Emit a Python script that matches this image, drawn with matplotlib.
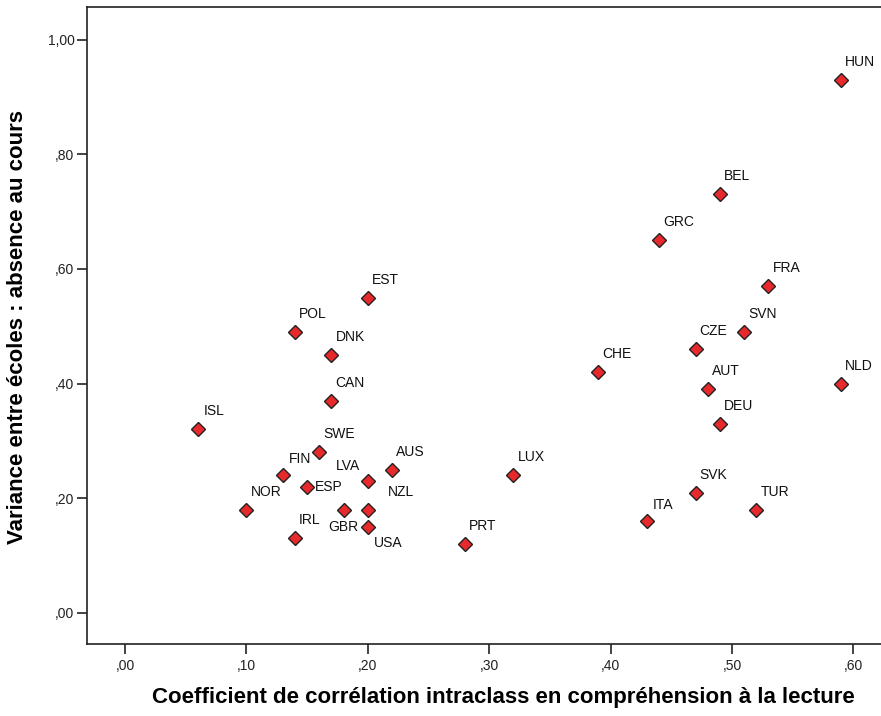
import matplotlib.pyplot as plt
from matplotlib.ticker import FixedLocator

# DATA
COUNTRIES = ["HUN", "BEL", "GRC", "FRA", "SVN", "CZE", "CHE", "AUT", "NLD", "DEU",
             "SVK", "TUR", "ITA", "LUX", "PRT", "EST", "POL", "DNK", "CAN", "ISL",
             "SWE", "FIN", "LVA", "AUS", "ESP", "NOR", "GBR", "NZL", "USA", "IRL"]
ICC_READING = [0.59, 0.49, 0.44, 0.53, 0.51, 0.47, 0.39, 0.48, 0.59, 0.49,
               0.47, 0.52, 0.43, 0.32, 0.28, 0.20, 0.14, 0.17, 0.17, 0.06,
               0.16, 0.13, 0.20, 0.22, 0.15, 0.10, 0.18, 0.20, 0.20, 0.14]
VAR_ABSENCE = [0.93, 0.73, 0.65, 0.57, 0.49, 0.46, 0.42, 0.39, 0.40, 0.33,
               0.21, 0.18, 0.16, 0.24, 0.12, 0.55, 0.49, 0.45, 0.37, 0.32,
               0.28, 0.24, 0.23, 0.25, 0.22, 0.18, 0.18, 0.18, 0.15, 0.13]
X_TICKS = [0.0, 0.1, 0.2, 0.3, 0.4, 0.5, 0.6]
X_TICK_LABELS = [",00", ",10", ",20", ",30", ",40", ",50", ",60"]
Y_TICKS = [0.0, 0.2, 0.4, 0.6, 0.8, 1.0]
Y_TICK_LABELS = [",00", ",20", ",40", ",60", ",80", "1,00"]

# label placement (pixel offsets from the marker, halign)
DEFAULT_OFFSET = (4, -18, "left")
LABEL_OFFSETS = {
    "ITA": (6, -16, "left"),
    "ISL": (6, -18, "left"),
    "FIN": (6, -16, "left"),
    "LVA": (-8, -15, "right"),
    "ESP": (8, 0, "left"),
    "GBR": (0, 17, "center"),
    "NZL": (20, -18, "left"),
    "USA": (6, 16, "left"),
}

MARKER_COLOUR = "#E8292C"
FONT = "Liberation Sans"

fig = plt.figure(figsize=(8.81, 7.16), dpi=100)
ax = fig.add_axes([87 / 881, 1 - 644 / 716, 1 - 87 / 881 + 0.01, (644 - 7) / 716])

ax.plot(ICC_READING, VAR_ABSENCE, linestyle="none", marker="D", markersize=7.2,
        markerfacecolor=MARKER_COLOUR, markeredgecolor="#222222", markeredgewidth=1.0,
        zorder=3)

for name, x, y in zip(COUNTRIES, ICC_READING, VAR_ABSENCE):
    dx, dy, ha = LABEL_OFFSETS.get(name, DEFAULT_OFFSET)
    ax.annotate(name, (x, y), xytext=(dx, -dy), textcoords="offset pixels",
                ha=ha, va="center", fontsize=10, family=FONT, color="#111111")

# axes range
x_per_px = 0.1 / 121.4
y_per_px = 0.2 / 114.7
ax.set_xlim(-38 * x_per_px, -38 * x_per_px + (881 * ax.get_position().width) * x_per_px)
ax.set_ylim(-31 * y_per_px, 606 * y_per_px)

ax.xaxis.set_major_locator(FixedLocator(X_TICKS))
ax.yaxis.set_major_locator(FixedLocator(Y_TICKS))
ax.set_xticklabels(X_TICK_LABELS, fontsize=10, family=FONT)
ax.set_yticklabels(Y_TICK_LABELS, fontsize=10, family=FONT)
ax.tick_params(direction="out", length=7, width=1.2, color="#222222", labelcolor="#222222")
ax.tick_params(axis="y", pad=2)
ax.tick_params(axis="x", pad=4)

for side in ["left", "bottom", "top"]:
    ax.spines[side].set_linewidth(1.2)
    ax.spines[side].set_color("#222222")
ax.spines["right"].set_visible(False)

fig.text(503 / 881, 1 - 697 / 716,
         "Coefficient de corrélation intraclass en compréhension à la lecture",
         ha="center", va="center", fontsize=16, fontweight="bold", family=FONT)
fig.text(18 / 881, 1 - 327 / 716, "Variance entre écoles : absence au cours",
         ha="center", va="center", rotation=90, fontsize=16, fontweight="bold", family=FONT)

fig.savefig("out.png", dpi=100)
